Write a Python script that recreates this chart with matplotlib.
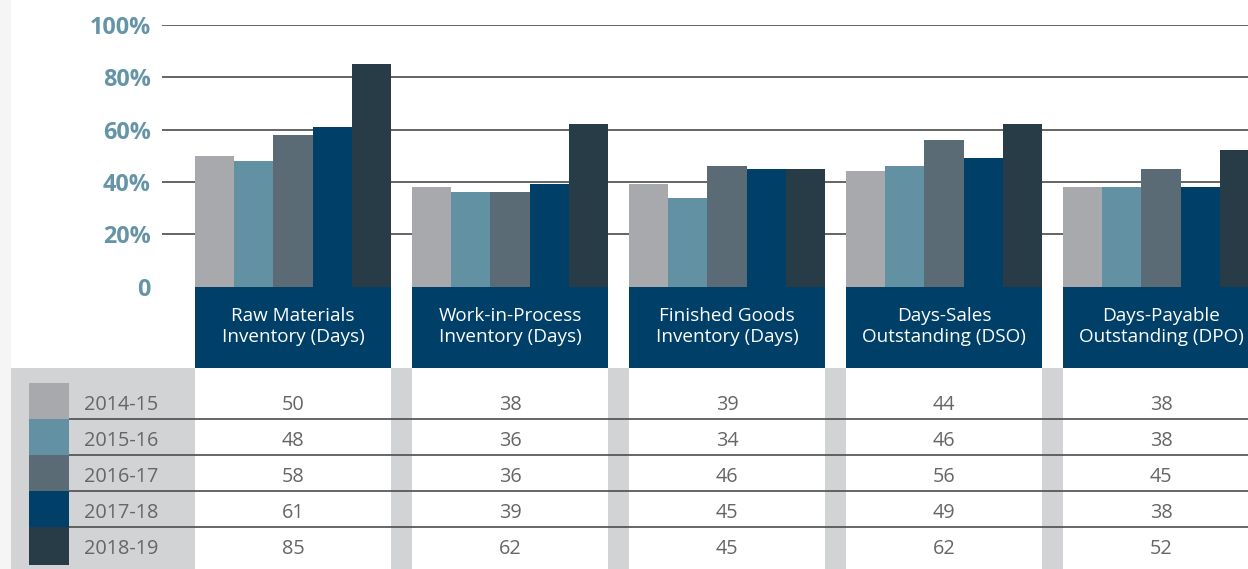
import matplotlib
matplotlib.use("Agg")
import matplotlib.pyplot as plt
from matplotlib.patches import Rectangle

# ---------------- data ----------------
categories = ["Raw Materials\nInventory (Days)",
              "Work-in-Process\nInventory (Days)",
              "Finished Goods\nInventory (Days)",
              "Days-Sales\nOutstanding (DSO)",
              "Days-Payable\nOutstanding (DPO)"]
years = ["2014-15", "2015-16", "2016-17", "2017-18", "2018-19"]
v_2014_15 = [50, 38, 39, 44, 38]
v_2015_16 = [48, 36, 34, 46, 38]
v_2016_17 = [58, 36, 46, 56, 45]
v_2017_18 = [61, 39, 45, 49, 38]
v_2018_19 = [85, 62, 45, 62, 52]
series = [v_2014_15, v_2015_16, v_2016_17, v_2017_18, v_2018_19]
colors = ["#a7a9ac", "#6191a3", "#5a6b75", "#003f68", "#283c48"]
yticks = [0, 20, 40, 60, 80, 100]
ytick_labels = ["0", "20%", "40%", "60%", "80%", "100%"]

# ---------------- layout (pixels) ----------------
W, H = 1248, 569
G0 = 293.0      # centre of first group
GSTEP = 217.0   # distance between groups
GW = 196.0      # group width
AX_L = 160.0
Y0_PX = 286.5   # y=0
Y100_PX = 24.9  # y=100
HDR_BOT = 367.5
ROW_TOP = 383.0
ROW_H = 36.0

FONT = ["Open Sans", "DejaVu Sans"]
plt.rcParams["font.family"] = FONT

fig = plt.figure(figsize=(W / 100, H / 100), dpi=100)
fig.patch.set_facecolor("white")

# background / table axes in pixel coordinates
bg = fig.add_axes([0, 0, 1, 1])
bg.set_xlim(0, W)
bg.set_ylim(H, 0)
bg.axis("off")

bg.add_patch(Rectangle((0, 0), 11, H, color="#f5f5f5", lw=0))
bg.add_patch(Rectangle((11, HDR_BOT), W - 11, H - HDR_BOT, color="#d1d3d4", lw=0))

n = len(categories)
for i, cat in enumerate(categories):
    gl = G0 + GSTEP * i - GW / 2
    bg.add_patch(Rectangle((gl, Y0_PX - 1), GW, HDR_BOT - Y0_PX + 1,
                           color="#003f68", lw=0))
    bg.add_patch(Rectangle((gl, HDR_BOT), GW, H - HDR_BOT, color="white", lw=0))
    bg.text(G0 + GSTEP * i, (Y0_PX + HDR_BOT) / 2 - 0.5, cat, color="white",
            ha="center", va="center", fontsize=13.6, linespacing=1.2)

for r, (yr, col) in enumerate(zip(years, colors)):
    top = ROW_TOP + r * ROW_H
    bg.add_patch(Rectangle((29, top), 40, ROW_H + (2 if r == len(years) - 1 else 0),
                           color=col, lw=0))
    bg.text(84, top + ROW_H / 2 + 3.5, yr, color="#666666", ha="left",
            va="center", fontsize=14.3)
    for i in range(n):
        bg.text(G0 + GSTEP * i, top + ROW_H / 2 + 3.5, str(series[r][i]),
                color="#666666", ha="center", va="center", fontsize=14.3)
    if r > 0:
        bg.plot([69, W], [top, top], color="#4d4d4d", lw=1.2,
                solid_capstyle="butt")

# bar axes
ax = fig.add_axes([AX_L / W, (H - Y0_PX) / H, (W - AX_L) / W,
                   (Y0_PX - Y100_PX) / H])
ax.patch.set_alpha(0)
ax.set_xlim((AX_L - G0) / GSTEP, (W - G0) / GSTEP)
ax.set_ylim(0, 100)
for s in ax.spines.values():
    s.set_visible(False)
ax.set_xticks([])
ax.set_yticks(yticks)
ax.set_yticklabels(ytick_labels)
ax.tick_params(axis="y", length=0, pad=6.5, labelsize=16.8, labelcolor="#6594a6")
for lab in ax.get_yticklabels():
    lab.set_fontweight("bold")
ax.hlines(yticks[1:], (AX_L + 2 - G0) / GSTEP, (W - G0) / GSTEP,
          color="#3a3a3a", lw=1.1, zorder=1)

bw = GW / GSTEP / len(series)
for j, (vals, col) in enumerate(zip(series, colors)):
    xs = [i - GW / GSTEP / 2 + bw * (j + 0.5) for i in range(n)]
    ax.bar(xs, vals, width=bw, color=col, lw=0, zorder=2)

fig.savefig("out.png", dpi=100)
